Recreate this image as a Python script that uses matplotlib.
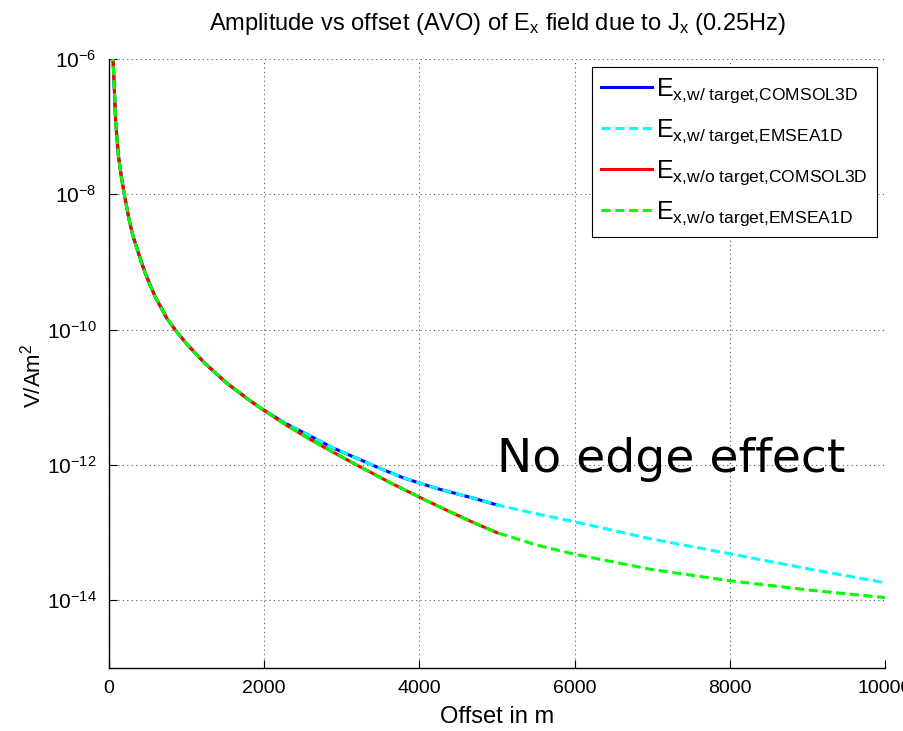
import numpy as np
import matplotlib
matplotlib.use("Agg")
import matplotlib.pyplot as plt
from matplotlib.ticker import LogFormatterSciNotation, NullLocator

plt.rcParams["font.family"] = ["Liberation Sans", "DejaVu Sans"]
plt.rcParams["mathtext.fontset"] = "custom"
plt.rcParams["mathtext.rm"] = "Liberation Sans"
plt.rcParams["mathtext.it"] = "Liberation Sans"
plt.rcParams["mathtext.default"] = "regular"

# Near-field part, identical for both models (offset in m, log10 of |Ex| in V/Am^2)
offset_near = [40, 68, 86, 120, 160, 197, 258, 305, 365, 464, 593, 744, 851,
               1000, 1237, 1517, 1817, 1968]
log_near = [-5.70, -6.43, -6.93, -7.42, -7.75, -8.00, -8.37, -8.60, -8.82,
            -9.16, -9.51, -9.83, -10.00, -10.21, -10.50, -10.79, -11.05, -11.17]

# With target: COMSOL 3D runs to 5 km, EMSEA 1D to 10 km
offset_wt_mid = [2268, 2590, 2890, 3192, 3492, 3793, 4008, 4265, 4695, 5000]
log_wt_mid = [-11.38, -11.57, -11.75, -11.90, -12.05, -12.19, -12.27, -12.36,
              -12.49, -12.59]
offset_wt_far = [5500, 6005, 6972, 7994, 9034, 10000]
log_wt_far = [-12.72, -12.84, -13.09, -13.31, -13.54, -13.74]

# Without target
offset_wo_mid = [2268, 2590, 2870, 3192, 3621, 4008, 4372, 4695, 5000]
log_wo_mid = [-11.40, -11.62, -11.80, -12.00, -12.26, -12.48, -12.68, -12.85,
              -13.00]
offset_wo_far = [5500, 6005, 6972, 7994, 9034, 10000]
log_wo_far = [-13.18, -13.32, -13.54, -13.71, -13.85, -13.96]

x_comsol_wt = np.array(offset_near + offset_wt_mid)
y_comsol_wt = 10.0 ** np.array(log_near + log_wt_mid)
x_emsea_wt = np.array(offset_near + offset_wt_mid + offset_wt_far)
y_emsea_wt = 10.0 ** np.array(log_near + log_wt_mid + log_wt_far)
x_comsol_wo = np.array(offset_near + offset_wo_mid)
y_comsol_wo = 10.0 ** np.array(log_near + log_wo_mid)
x_emsea_wo = np.array(offset_near + offset_wo_mid + offset_wo_far)
y_emsea_wo = 10.0 ** np.array(log_near + log_wo_mid + log_wo_far)

labels = [
    r"$\mathrm{E}_{\mathrm{x{,}w/\ target{,}COMSOL3D}}$",
    r"$\mathrm{E}_{\mathrm{x{,}w/\ target{,}EMSEA1D}}$",
    r"$\mathrm{E}_{\mathrm{x{,}w/o\ target{,}COMSOL3D}}$",
    r"$\mathrm{E}_{\mathrm{x{,}w/o\ target{,}EMSEA1D}}$",
]

fig = plt.figure(figsize=(9.04, 7.31), dpi=100)
ax = fig.add_axes([0.1206, 0.0862, 0.9790 - 0.1206, 0.9193 - 0.0862])

lw = 2.2
dash = (3, 1.5)
ax.semilogy(x_comsol_wt, y_comsol_wt, color="#0000ff", lw=lw, label=labels[0])
ax.semilogy(x_emsea_wt, y_emsea_wt, color="#00ffff", lw=lw, dashes=dash, label=labels[1])
ax.semilogy(x_comsol_wo, y_comsol_wo, color="#ff0000", lw=lw, label=labels[2])
ax.semilogy(x_emsea_wo, y_emsea_wo, color="#00ff00", lw=lw, dashes=dash, label=labels[3])

ax.set_xlim(0, 10000)
ax.set_ylim(1e-15, 1e-6)
ax.set_xticks([0, 2000, 4000, 6000, 8000, 10000])
ax.set_yticks([1e-14, 1e-12, 1e-10, 1e-8, 1e-6])
ax.yaxis.set_minor_locator(NullLocator())
ax.yaxis.set_major_formatter(LogFormatterSciNotation())

for s in ("top", "right"):
    ax.spines[s].set_visible(False)
for s in ("left", "bottom"):
    ax.spines[s].set_linewidth(1.0)

ax.tick_params(axis="both", which="major", direction="in", length=6, width=0.8)
ax.tick_params(axis="x", pad=9, labelsize=14)
ax.tick_params(axis="y", pad=9, labelsize=15)

ax.grid(True, which="major", color="0.35", linestyle=(0, (1, 3)), lw=0.8)

ax.set_title(r"Amplitude vs offset (AVO) of E$_{\mathrm{x}}$ field due to J$_{\mathrm{x}}$ (0.25Hz)",
             fontsize=17, pad=21)
ax.set_xlabel("Offset in m", fontsize=17, labelpad=6)
ax.set_ylabel(r"V/Am$^{2}$", fontsize=16)
ax.yaxis.set_label_coords(-0.082, 0.48)

leg = ax.legend(loc="upper right", fontsize=18, frameon=True, fancybox=False,
                edgecolor="black", framealpha=1.0, borderaxespad=0.32,
                handlelength=2.05, handletextpad=0.16, labelspacing=0.5,
                borderpad=0.36)
leg.get_frame().set_linewidth(0.8)

ax.text(5000, 10 ** -12.1, "No edge effect", family="DejaVu Sans",
        fontsize=34, ha="left", va="baseline")

fig.savefig("out.png", dpi=100)
